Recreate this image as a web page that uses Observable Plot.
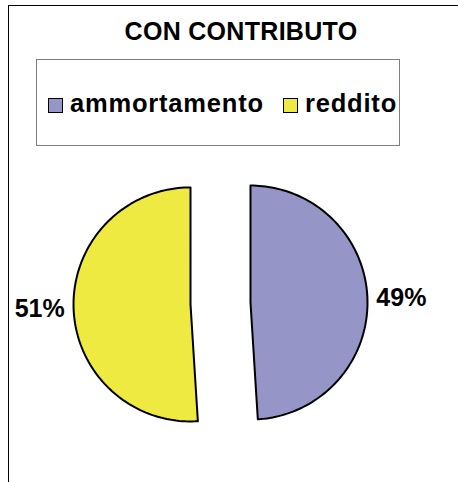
<!DOCTYPE html>
<html>
<head>
<meta charset="utf-8">
<script src="https://cdn.jsdelivr.net/npm/d3@7"></script>
<script src="https://cdn.jsdelivr.net/npm/@observablehq/plot@0.6"></script>
<style>
  html, body { margin: 0; padding: 0; background: #fff; }
  body { width: 458px; height: 482px; position: relative; overflow: hidden; font-family: "Liberation Sans", Arial, sans-serif; }
  #frame { position: absolute; left: 8px; top: 5px; width: 460px; height: 490px; border-left: 1.5px solid #000; border-top: 1.5px solid #000; box-sizing: border-box; }
  #title { position: absolute; left: 0; width: 482px; top: 17px; text-align: center; font-weight: bold; font-size: 25px; line-height: 28px; color: #000; letter-spacing: 0.3px; }
  #legend { position: absolute; left: 36px; top: 59px; width: 364px; height: 87px; border: 1px solid #808080; box-sizing: border-box; }
  .item { position: absolute; top: 0; height: 87px; display: flex; align-items: center; font-weight: bold; font-size: 25.5px; letter-spacing: 0.8px; }
  .sw { width: 13px; height: 13px; border: 1px solid #000; margin-right: 7px; margin-top: 3px; }
  #pie { position: absolute; left: 0; top: 160px; }
</style>
</head>
<body>
<div id="frame"></div>
<div id="title"></div>
<div id="legend"></div>
<div id="pie"></div>
<script>
const titleText = "CON CONTRIBUTO";
const categories = ["ammortamento", "reddito"];
const values = [49, 51];
const labels = ["49%", "51%"];
const colors = ["#9595C8", "#EEEA42"];

document.getElementById("title").textContent = titleText;

// legend
const legend = document.getElementById("legend");
const legendLeft = [11, 246];
categories.forEach((c, i) => {
  const it = document.createElement("div");
  it.className = "item";
  it.style.left = legendLeft[i] + "px";
  const sw = document.createElement("div");
  sw.className = "sw";
  sw.style.background = colors[i];
  const tx = document.createElement("span");
  tx.textContent = c;
  it.appendChild(sw);
  it.appendChild(tx);
  legend.appendChild(it);
});

// pie geometry (radius = 1 unit)
const R = 117;           // px per unit
const W = 458, H = 322;
const cxPx = 220, cyPx = 143;
const explode = 30 / R;
const arcs = d3.pie().sort(null).value(d => d)(values);

const polys = [];
const labelPts = [];
arcs.forEach((a, i) => {
  const mid = (a.startAngle + a.endAngle) / 2;
  const ox = explode * Math.sin(mid), oy = explode * Math.cos(mid);
  polys.push({k: categories[i], x: ox, y: oy});
  const n = 120;
  for (let j = 0; j <= n; j++) {
    const t = a.startAngle + (a.endAngle - a.startAngle) * j / n;
    polys.push({k: categories[i], x: ox + Math.sin(t), y: oy + Math.cos(t)});
  }
  polys.push({k: categories[i], x: ox, y: oy});
  labelPts.push({k: categories[i], label: labels[i], x: ox + 1.29 * Math.sin(mid), y: oy + 1.29 * Math.cos(mid)});
});

const chart = Plot.plot({
  width: W,
  height: H,
  margin: 0,
  x: {domain: [-cxPx / R, (W - cxPx) / R], axis: null},
  y: {domain: [-(H - cyPx) / R, cyPx / R], axis: null},
  color: {domain: categories, range: colors},
  marks: [
    Plot.line(polys, {x: "x", y: "y", z: "k", fill: "k", stroke: "#000", strokeWidth: 2, strokeLinejoin: "round", curve: "linear"}),
    Plot.text(labelPts, {x: "x", y: "y", text: "label", fontSize: 25, fontWeight: "bold", fill: "#000", fontFamily: "Liberation Sans, Arial, sans-serif", dy: 0})
  ]
});
document.getElementById("pie").appendChild(chart);
</script>
</body>
</html>
